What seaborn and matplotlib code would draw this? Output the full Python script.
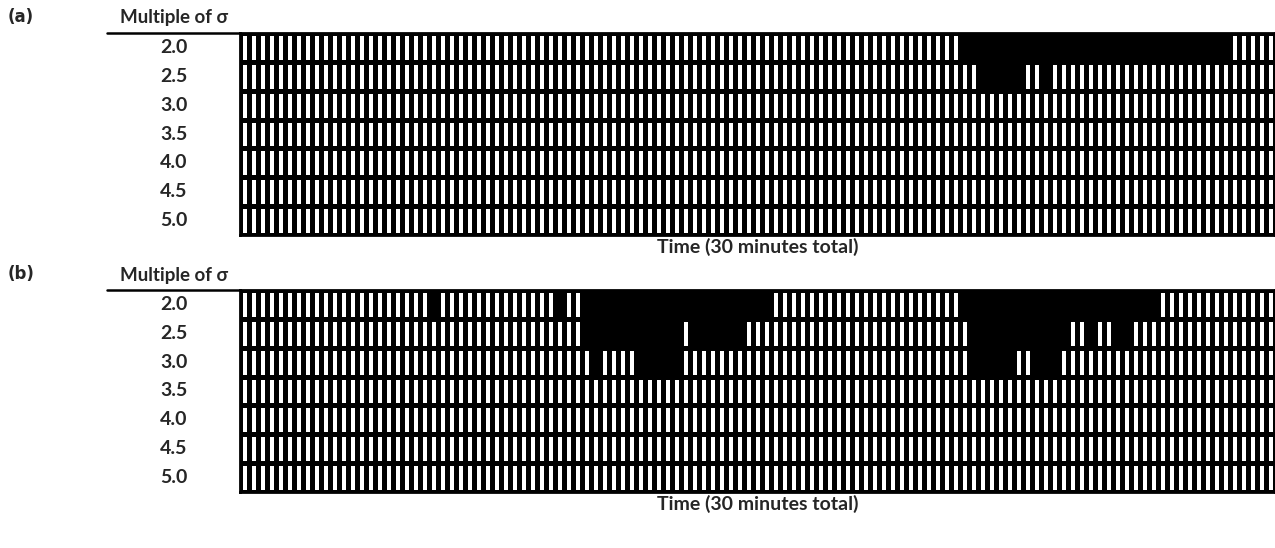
import numpy as np
import matplotlib
matplotlib.use("Agg")
import matplotlib.pyplot as plt
from matplotlib.colors import ListedColormap
from matplotlib.lines import Line2D
import seaborn as sns

# ---- data ----
n_windows = 115  # time windows across 30 minutes
sigma_levels = ["2.0", "2.5", "3.0", "3.5", "4.0", "4.5", "5.0"]

# flagged (black) windows per sigma level: (first, last) inclusive
panel_a_flags = {
    "2.0": [(80, 109)],
    "2.5": [(82, 86), (89, 89)],
}
panel_b_flags = {
    "2.0": [(21, 21), (35, 35), (38, 58), (80, 101)],
    "2.5": [(38, 48), (50, 55), (81, 91), (94, 94), (97, 98)],
    "3.0": [(39, 39), (44, 48), (81, 85), (88, 90)],
}
panel_labels = ["(a)", "(b)"]
header_text = "Multiple of σ"
xlabel_text = "Time (30 minutes total)"


def build_matrix(flags):
    mat = np.zeros((len(sigma_levels), n_windows))
    for i, lvl in enumerate(sigma_levels):
        for s, e in flags.get(lvl, []):
            mat[i, s:e + 1] = 1
    return mat


sns.set_style("white")
plt.rcParams["font.family"] = ["Lato", "DejaVu Sans"]
plt.rcParams["font.weight"] = "bold"

W, H = 1275, 548
fig = plt.figure(figsize=(W / 100, H / 100), dpi=100)

grid_left = 240
grid_right = 1275
panels = [(panel_a_flags, 33, 235), (panel_b_flags, 290, 492)]
cmap = ListedColormap(["white", "black"])

for k, (flags, top, bottom) in enumerate(panels):
    ax = fig.add_axes([grid_left / W, 1 - bottom / H,
                       (grid_right - grid_left) / W, (bottom - top) / H])
    mat = build_matrix(flags)
    sns.heatmap(mat, ax=ax, cmap=cmap, vmin=0, vmax=1, cbar=False,
                linewidths=2.4, linecolor="black",
                xticklabels=False, yticklabels=sigma_levels)
    for s in ax.spines.values():
        s.set_visible(True)
        s.set_linewidth(2.0)
        s.set_color("black")
    ax.tick_params(axis="y", length=0, pad=38, labelsize=14, rotation=0)
    for t in ax.get_yticklabels():
        t.set_fontweight("bold")
        t.set_rotation(0)
    ax.set_xlabel(xlabel_text, fontsize=14, fontweight="bold", labelpad=2)

    # header rule and texts
    y_line = 1 - top / H
    fig.add_artist(Line2D([107 / W, grid_left / W], [y_line, y_line],
                          transform=fig.transFigure, color="black", lw=1.8))
    fig.text(120 / W, 1 - (top - 15) / H, header_text, fontsize=13.5,
             fontweight="bold", ha="left", va="center")
    fig.text(8 / W, 1 - (top - 16) / H, panel_labels[k], fontsize=12,
             fontweight="bold", ha="left", va="center",
             family=["DejaVu Sans"])

fig.savefig("out.png", dpi=100, facecolor="white")
